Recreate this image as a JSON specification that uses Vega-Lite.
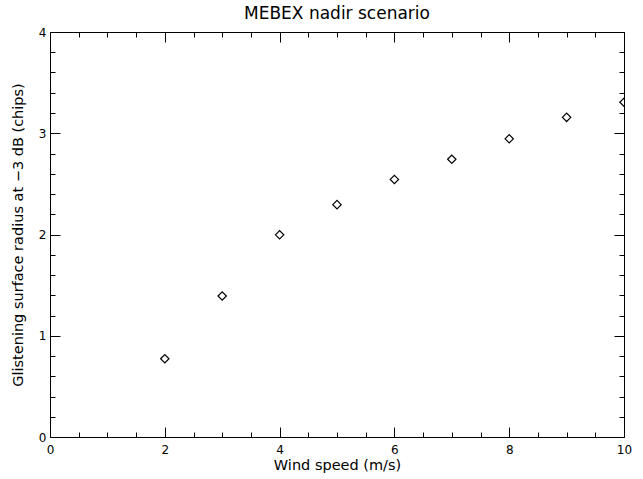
{
  "$schema": "https://vega.github.io/schema/vega-lite/v6.json",
  "autosize": {"type": "none"},
  "padding": {"left": 50, "top": 32, "right": 19, "bottom": 42},
  "width": 574,
  "height": 405,
  "background": "white",
  "title": {"text": "MEBEX nadir scenario", "font": "DejaVu Sans", "fontSize": 17, "fontWeight": "normal", "color": "black", "offset": 3},
  "config": {
    "view": {"stroke": null},
    "axis": {"domainColor": "black", "tickColor": "black", "labelColor": "black", "titleColor": "black", "labelFont": "DejaVu Sans", "titleFont": "DejaVu Sans", "labelFontSize": 12, "titleFontSize": 14.5, "titleFontWeight": "normal", "grid": false, "domainWidth": 1, "tickWidth": 1, "labelFlush": false, "labelOverlap": false}
  },
  "data": {"values": [
    {"wind": 2, "radius": 0.773},
    {"wind": 3, "radius": 1.393},
    {"wind": 4, "radius": 1.997},
    {"wind": 5, "radius": 2.295},
    {"wind": 6, "radius": 2.544},
    {"wind": 7, "radius": 2.743},
    {"wind": 8, "radius": 2.945},
    {"wind": 9, "radius": 3.157},
    {"wind": 10, "radius": 3.306}
  ]},
  "resolve": {"axis": {"x": "independent", "y": "independent"}},
  "layer": [
    {
      "mark": {"type": "point", "shape": "diamond", "size": 70, "filled": false, "stroke": "black", "strokeWidth": 1.2, "clip": true, "opacity": 1},
      "encoding": {
        "x": {"field": "wind", "type": "quantitative", "scale": {"domain": [0, 10], "nice": false, "zero": false},
          "axis": {"orient": "bottom", "title": "Wind speed (m/s)", "values": [0, 2, 4, 6, 8, 10], "tickSize": -10, "labelPadding": 17, "titlePadding": 3, "format": "d"}},
        "y": {"field": "radius", "type": "quantitative", "scale": {"domain": [0, 4], "nice": false, "zero": false},
          "axis": {"orient": "left", "title": "Glistening surface radius at −3 dB (chips)", "values": [0, 1, 2, 3, 4], "tickSize": -10, "labelPadding": 14, "titlePadding": 13, "format": "d"}}
      }
    },
    {
      "mark": {"type": "point", "opacity": 0},
      "encoding": {
        "x": {"field": "wind", "type": "quantitative", "axis": {"orient": "bottom", "title": null, "labels": false, "domain": false, "tickSize": -5, "values": [0.5, 1, 1.5, 2.5, 3, 3.5, 4.5, 5, 5.5, 6.5, 7, 7.5, 8.5, 9, 9.5]}},
        "y": {"field": "radius", "type": "quantitative", "axis": {"orient": "left", "title": null, "labels": false, "domain": false, "tickSize": -5, "values": [0.2, 0.4, 0.6, 0.8, 1.2, 1.4, 1.6, 1.8, 2.2, 2.4, 2.6, 2.8, 3.2, 3.4, 3.6, 3.8]}}
      }
    },
    {
      "mark": {"type": "point", "opacity": 0},
      "encoding": {
        "x": {"field": "wind", "type": "quantitative", "axis": {"orient": "top", "title": null, "labels": false, "tickSize": -10, "values": [0, 2, 4, 6, 8, 10]}},
        "y": {"field": "radius", "type": "quantitative", "axis": {"orient": "right", "title": null, "labels": false, "tickSize": -10, "values": [0, 1, 2, 3, 4]}}
      }
    },
    {
      "mark": {"type": "point", "opacity": 0},
      "encoding": {
        "x": {"field": "wind", "type": "quantitative", "axis": {"orient": "top", "title": null, "labels": false, "domain": false, "tickSize": -5, "values": [0.5, 1, 1.5, 2.5, 3, 3.5, 4.5, 5, 5.5, 6.5, 7, 7.5, 8.5, 9, 9.5]}},
        "y": {"field": "radius", "type": "quantitative", "axis": {"orient": "right", "title": null, "labels": false, "domain": false, "tickSize": -5, "values": [0.2, 0.4, 0.6, 0.8, 1.2, 1.4, 1.6, 1.8, 2.2, 2.4, 2.6, 2.8, 3.2, 3.4, 3.6, 3.8]}}
      }
    }
  ]
}
